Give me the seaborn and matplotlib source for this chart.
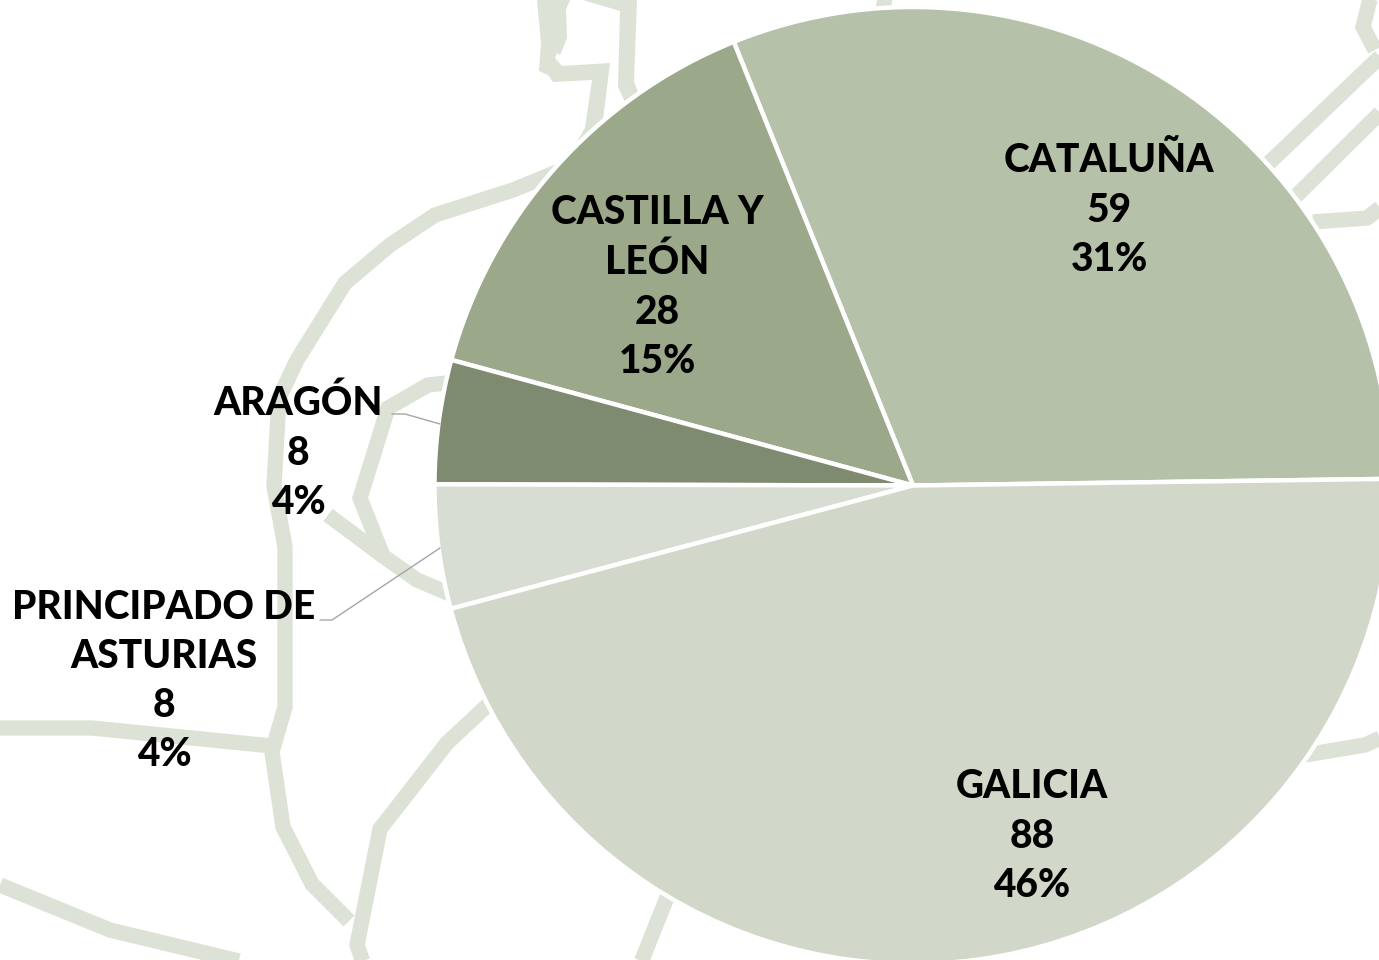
import matplotlib
matplotlib.use("Agg")
import matplotlib.pyplot as plt
import seaborn as sns

regions = ["CATALUÑA", "CASTILLA Y\nLEÓN", "ARAGÓN", "PRINCIPADO DE\nASTURIAS", "GALICIA"]
counts = [59, 28, 8, 8, 88]
colors = ["#B5C1A8", "#9BA88A", "#7F8B71", "#D7DDD2", "#D1D8C9"]

# where each label sits, in image pixels
label_x = [1109, 657, 298, 164, 1032]
label_y = [210, 287, 453, 681, 836]

# background map, in image pixels (y going down)
map_lines = [
    [(562, 170), (513, 190), (435, 215), (390, 245), (345, 283), (297, 360), (279, 398),
     (274, 486), (285, 547), (285, 707), (272, 752), (283, 827), (312, 884), (349, 921)],
    [(0, 728), (92, 728), (272, 746)],
    [(0, 885), (110, 930), (268, 968)],
    [(490, 703), (447, 743), (380, 829), (357, 945), (364, 965)],
    [(447, 383), (428, 385), (388, 408), (360, 498), (383, 556), (417, 580), (450, 594)],
    [(328, 515), (383, 556)],
    [(1269, 163), (1385, 52)],
    [(1295, 197), (1385, 108)],
    [(1313, 222), (1367, 218), (1385, 204)],
    [(1371, -5), (1363, 27), (1375, 50)],
    [(1305, 755), (1365, 745), (1385, 736)],
    [(670, 890), (640, 965)],
    [(885, -5), (883, 14)],
]
map_shapes = [
    [(537, 0), (541, 43), (539, 71), (548, 75), (553, 82), (592, 80), (585, 128), (575, 145),
     (603, 120), (610, 63), (562, 66), (555, 58), (557, 53), (560, 55), (567, 38), (566, 10), (570, 0)],
    [(583, 0), (620, 11), (618, 87), (625, 102), (638, 92), (634, 82), (637, 0)],
]
leaders = [
    [(392, 414), (405, 414), (440, 424)],
    [(320, 620), (332, 620), (440, 548)],
]

sns.set_theme(style="white")
plt.rcParams["font.family"] = ["Lato", "DejaVu Sans"]

fig = plt.figure(figsize=(13.79, 9.6), dpi=100)
ax = fig.add_axes([0, 0, 1, 1])

H = 960

for line in map_lines:
    ax.plot([p[0] for p in line], [H - p[1] for p in line], color="#DCE2D5", lw=11,
            solid_joinstyle="miter", solid_capstyle="butt", zorder=1)
for shape in map_shapes:
    ax.fill([p[0] for p in shape], [H - p[1] for p in shape], color="#DCE2D5", lw=0, zorder=1)

ax.pie(counts, colors=sns.color_palette(colors), startangle=0.8, center=(913, H - 485.5), radius=478.5,
       wedgeprops={"edgecolor": "white", "linewidth": 3.2, "zorder": 2}, frame=False)

for line in leaders:
    ax.plot([p[0] for p in line], [H - p[1] for p in line], color="#A6A6A6", lw=1, zorder=3)

total = sum(counts)
for name, n, x, y in zip(regions, counts, label_x, label_y):
    pct = round(n / total * 100)
    ax.text(x, H - y, f"{name}\n{n}\n{pct}%", ha="center", va="center", fontsize=28,
            fontweight="black", color="black", linespacing=1.41, zorder=4)

ax.set_xlim(0, 1379)
ax.set_ylim(0, H)
ax.set_aspect("equal")
ax.axis("off")

fig.savefig("out.png", dpi=100)
